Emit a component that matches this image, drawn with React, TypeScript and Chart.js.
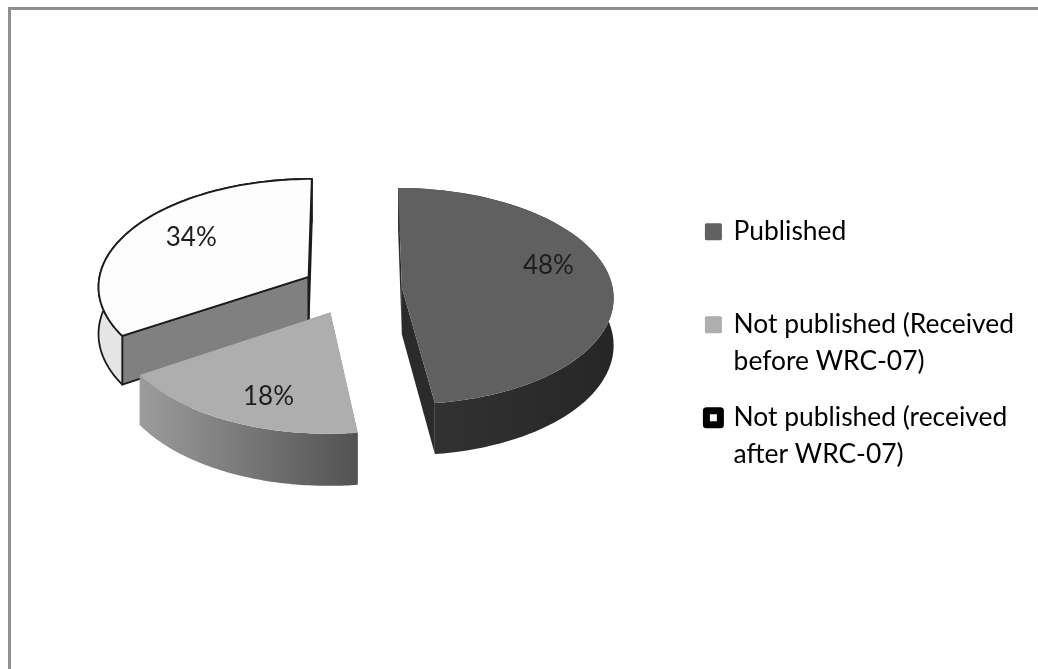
import React, { useEffect, useRef } from "react";
import { Chart, registerables } from "chart.js";

Chart.register(...registerables);

const categories = ["Published", "Not published (Received before WRC-07)", "Not published (received after WRC-07)"];
const legendLines = [["Published", ""], ["Not published (Received", "before WRC-07)"], ["Not published (received", "after WRC-07)"]];
const values = [48, 18, 34];

const topColors = ["#606060", "#aeaeae", "#fdfdfd"];
const rimFrom = ["#343434", "#9c9c9c", "#e6e6e6"];
const rimTo = ["#262626", "#525252", "#d6d6d6"];
const cutColors = ["#2b2b2b", "#8a8a8a", "#808080"];
const outlineColors = [null, null, "#1c1c1c"];
const drawOrder = [2, 0, 1];
const labelRadius = [156, 160, 147];
const labelAngleShift = [-12.4, -4.7, 4.2];

const CENTER_X = 352;
const CENTER_Y = 289;
const TILT = 0.51;
const PERSPECTIVE = 0.00038;
const DEPTH = 47;
const EXPLODE = 50;
const RADIUS = 211;

function project(wx: number, wy: number, z = 0) {
  const s = 1 / (1 - PERSPECTIVE * wy);
  return { x: CENTER_X + wx * s, y: CENTER_Y + TILT * wy * s + z * s };
}

function sliceOrigin(el: any) {
  const mid = (el.startAngle + el.endAngle) / 2;
  return { ox: Math.cos(mid) * EXPLODE, oy: Math.sin(mid) * EXPLODE };
}

function rimWorld(el: any, a: number) {
  const { ox, oy } = sliceOrigin(el);
  return { wx: ox + Math.cos(a) * el.outerRadius, wy: oy + Math.sin(a) * el.outerRadius };
}

function rimPoints(el: any, z: number, reverse = false) {
  const pts: { x: number; y: number }[] = [];
  const n = 80;
  for (let i = 0; i <= n; i++) {
    const a = el.startAngle + ((el.endAngle - el.startAngle) * i) / n;
    const w = rimWorld(el, a);
    pts.push(project(w.wx, w.wy, z));
  }
  return reverse ? pts.reverse() : pts;
}

function fillPoly(ctx: CanvasRenderingContext2D, pts: { x: number; y: number }[], fill: any, stroke: string | null) {
  ctx.beginPath();
  pts.forEach((p, i) => (i ? ctx.lineTo(p.x, p.y) : ctx.moveTo(p.x, p.y)));
  ctx.closePath();
  ctx.fillStyle = fill;
  ctx.fill();
  if (stroke) {
    ctx.strokeStyle = stroke;
    ctx.lineWidth = 1.8;
    ctx.lineJoin = "round";
    ctx.stroke();
  }
}

const pie3d = {
  id: "pie3d",
  beforeDatasetDraw(chart: any) {
    const ctx: CanvasRenderingContext2D = chart.ctx;
    const arcs = chart.getDatasetMeta(0).data;
    ctx.save();
    for (const i of drawOrder) {
      const el = arcs[i];
      const { ox, oy } = sliceOrigin(el);
      const stroke = outlineColors[i];
      const top = rimPoints(el, 0);
      const bottom = rimPoints(el, DEPTH, true);
      const apexTop = project(ox, oy, 0);
      const apexBottom = project(ox, oy, DEPTH);

      for (const a of [el.startAngle, el.endAngle]) {
        const w = rimWorld(el, a);
        fillPoly(ctx, [apexTop, project(w.wx, w.wy, 0), project(w.wx, w.wy, DEPTH), apexBottom], cutColors[i], stroke);
      }

      const xs = top.map((p) => p.x);
      const grad = ctx.createLinearGradient(Math.min(...xs), 0, Math.max(...xs), 0);
      grad.addColorStop(0, rimFrom[i]);
      grad.addColorStop(1, rimTo[i]);
      fillPoly(ctx, [...top, ...bottom], grad, stroke);

      fillPoly(ctx, [apexTop, ...top], el.options.backgroundColor, stroke);
    }
    ctx.restore();
    return false;
  },
  afterDatasetsDraw(chart: any) {
    const ctx: CanvasRenderingContext2D = chart.ctx;
    const arcs = chart.getDatasetMeta(0).data;
    const total = values.reduce((a, b) => a + b, 0);
    ctx.save();
    ctx.font = "26px Lato";
    ctx.fillStyle = "#1e1e1e";
    ctx.textAlign = "center";
    ctx.textBaseline = "middle";
    arcs.forEach((el: any, i: number) => {
      const { ox, oy } = sliceOrigin(el);
      const a = (el.startAngle + el.endAngle) / 2 + (labelAngleShift[i] * Math.PI) / 180;
      const p = project(ox + Math.cos(a) * labelRadius[i], oy + Math.sin(a) * labelRadius[i]);
      ctx.fillText(`${Math.round((values[i] / total) * 100)}%`, p.x, p.y);
    });
    ctx.restore();
  },
};

export default function App() {
  const ref = useRef<HTMLCanvasElement>(null);
  useEffect(() => {
    if (!ref.current) return;
    const chart = new Chart(ref.current, {
      type: "pie",
      data: {
        labels: categories,
        datasets: [{ data: values, backgroundColor: topColors, borderWidth: 0, radius: RADIUS } as any],
      },
      options: {
        responsive: false,
        animation: false,
        devicePixelRatio: 1,
        layout: { padding: { top: 28, right: 14, bottom: 0, left: 0 } },
        plugins: {
          tooltip: { enabled: false },
          legend: {
            position: "right",
            labels: {
              font: { family: "Lato", size: 26.4, lineHeight: 1.4 },
              color: "#1e1e1e",
              boxWidth: 14,
              boxHeight: 14,
              padding: 19,
              generateLabels: () =>
                legendLines.map((text, i) => ({
                  text,
                  fillStyle: topColors[i],
                  strokeStyle: i === 2 ? "#000000" : topColors[i],
                  lineWidth: i === 2 ? 7 : 3,
                  lineJoin: "round",
                  hidden: false,
                  index: i,
                })) as any,
            },
          },
        },
      },
      plugins: [pie3d],
    } as any);
    return () => chart.destroy();
  }, []);
  return (
    <div style={{ position: "fixed", left: 0, top: 0, width: 1038, height: 669, background: "#fff", overflow: "hidden" }}>
      <canvas ref={ref} width={1038} height={669} style={{ position: "absolute", left: 0, top: 0, display: "block" }} />
      <div style={{ position: "absolute", left: 8, top: 7, width: 1030, height: 3, background: "#8f8f8f" }} />
      <div style={{ position: "absolute", left: 8, top: 7, width: 3, height: 662, background: "#8f8f8f" }} />
    </div>
  );
}
